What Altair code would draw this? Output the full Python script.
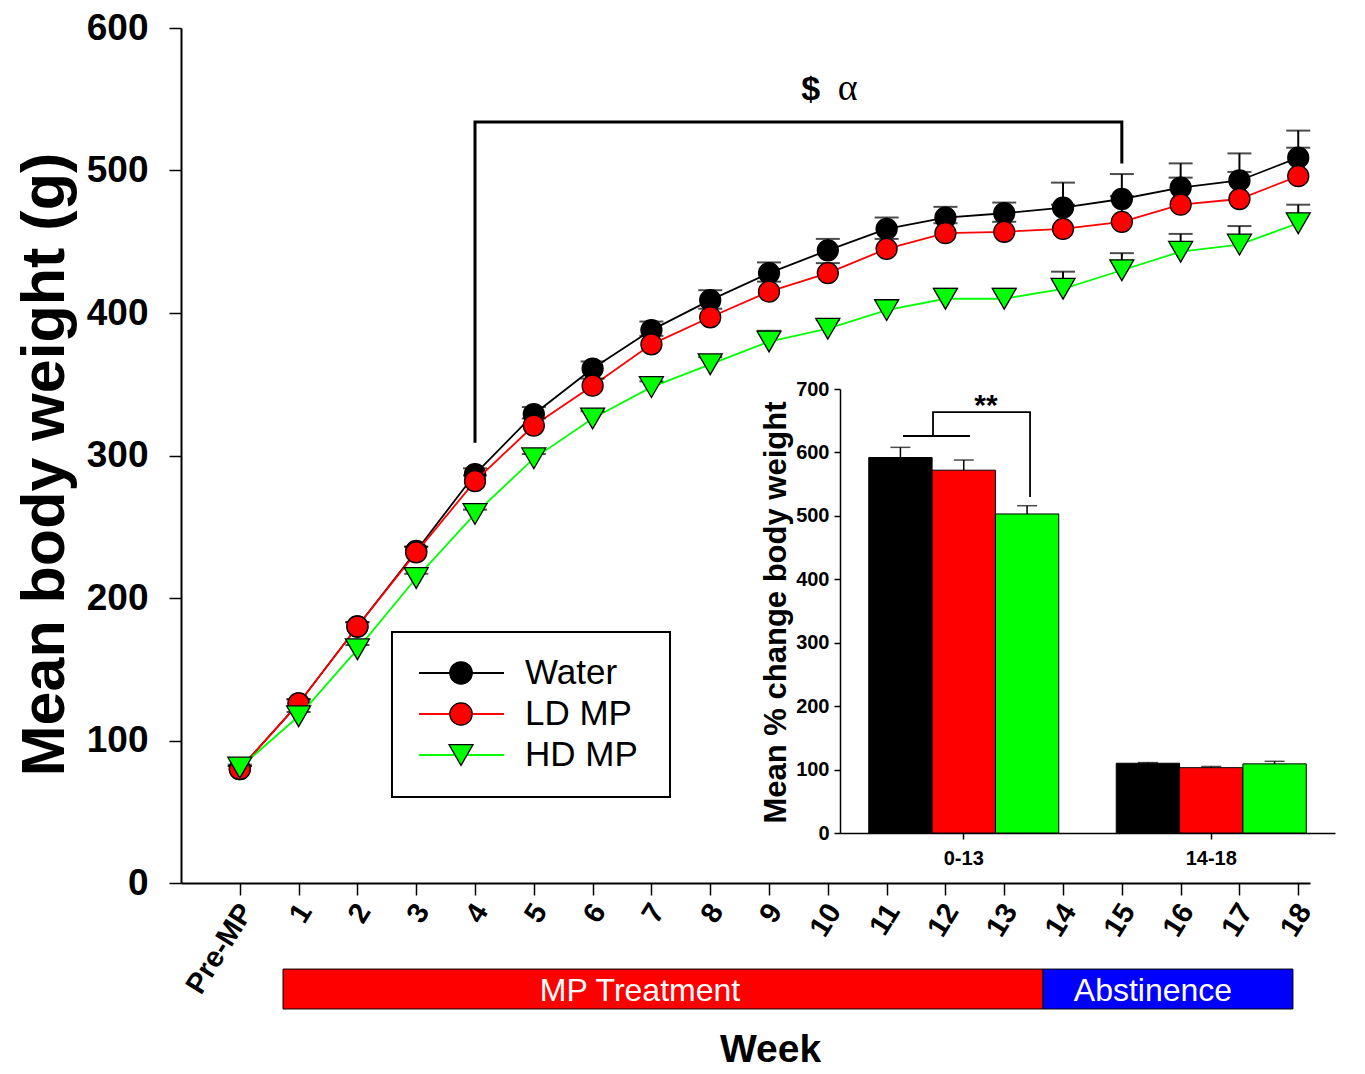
import json
import altair as alt
import pandas as pd

# ---------------- data ----------------
week_labels = ["Pre-MP"] + [str(i) for i in range(1, 19)]
week_index = list(range(19))

series_names = ["Water", "LD MP", "HD MP"]
series_colors = ["#000000", "#ff0000", "#00ff00"]
series_shapes = ["circle", "circle", "triangle-down"]

water = [80, 126, 180, 233, 287, 329, 361, 388, 409, 428, 444, 459, 467, 470, 474, 480, 488, 493, 509]
water_sem = [2, 3, 3, 3, 4, 5, 5, 6, 7, 7.5, 8, 8, 7.5, 7.5, 17.5, 17.5, 17, 19, 19]
ld_mp = [80, 126, 180, 232, 282, 321, 349, 378, 397, 415, 428, 445, 456, 457, 459, 464, 476, 480, 496]
ld_mp_sem = [2, 3, 3, 4, 4, 5, 5, 6, 6, 7, 7, 7, 7, 7, 17, 18, 19, 19, 20]
hd_mp = [81, 117, 164, 214, 259, 298, 326, 348, 364, 380, 389, 402, 410, 410, 417, 430, 443, 448, 463]
hd_mp_sem = [2, 3, 3, 3, 3, 3, 5, 4, 5, 7.5, 6, 7, 7, 7, 12, 12, 12.5, 13, 13]

# inset: mean % change body weight
periods = ["0-13", "14-18"]
pct_water = [592, 110]
pct_water_sem = [16, 1]
pct_ld = [572, 103]
pct_ld_sem = [16, 2]
pct_hd = [503, 109]
pct_hd_sem = [13, 4]

phase_names = ["MP Treatment", "Abstinence"]
phase_colors = ["#ff0000", "#0000ff"]
phase_start = [0.735, 13.66]
phase_end = [13.66, 17.91]

# ---------------- layout constants ----------------
FONT = "Liberation Sans"
SERIF = "Liberation Serif"
W, H = 1129, 855
xs = alt.Scale(domain=[-1, 18.2], nice=False, zero=False)
ys = alt.Scale(domain=[0, 600], nice=False, zero=False)

x_axis = alt.Axis(orient="bottom", values=week_index,
                  labelExpr=f"{json.dumps(week_labels)}[datum.value]",
                  labelAngle=-58, labelAlign="right", labelBaseline="middle",
                  labelFontSize=29, labelFontWeight="bold", labelPadding=11, labelOffset=6,
                  labelOverlap=False, labelFlush=False,
                  tickSize=12, tickWidth=1.5, domainWidth=2,
                  title="Week", titleFontSize=39, titleFontWeight="bold",
                  titleX=589, titleY=178, titleAlign="center", titleBaseline="alphabetic")
y_axis = alt.Axis(orient="left", values=[0, 100, 200, 300, 400, 500, 600],
                  labelFontSize=37, labelFontWeight="bold", labelPadding=21,
                  labelOverlap=False, labelFlush=False,
                  tickSize=12, tickWidth=1.5, domainWidth=2,
                  title="Mean body weight (g)", titleFontSize=61, titleFontWeight="bold",
                  titleAngle=270, titleX=-118, titleY=436, titleAlign="center",
                  titleBaseline="alphabetic")


def X(field):
    return alt.X(field, type="quantitative", scale=xs, axis=x_axis)


def Y(field):
    return alt.Y(field, type="quantitative", scale=ys, axis=y_axis)


def X2(field):
    return alt.X2(field)


def Y2(field):
    return alt.Y2(field)


main_layers = []

# phase bars under the axis
phase_df = pd.DataFrame({"name": phase_names, "color": phase_colors,
                         "x0": phase_start, "x1": phase_end,
                         "y0": [-60.4] * 2, "y1": [-88.4] * 2,
                         "tx": [6.806, 15.53], "ty": [-75.8] * 2})
main_layers.append(
    alt.Chart(phase_df).mark_rect(stroke="black", strokeWidth=1).encode(
        x=X("x0"), x2=X2("x1"), y=Y("y0"), y2=Y2("y1"),
        fill=alt.Fill("color:N", scale=None))
)
main_layers.append(
    alt.Chart(phase_df).mark_text(color="white", font=FONT, fontSize=32,
                                  align="center", baseline="middle").encode(
        x=X("tx"), y=Y("ty"), text="name:N")
)

# significance bracket on the growth curves
br_df = pd.DataFrame({"x": [4, 4, 15, 15], "y": [309, 534, 534, 505], "o": [0, 1, 2, 3]})
main_layers.append(
    alt.Chart(br_df).mark_line(color="black", strokeWidth=3).encode(
        x=X("x"), y=Y("y"), order="o:Q")
)
sym_df = pd.DataFrame({"t": ["$", "\u03b1"], "x": [9.71, 10.34], "y": [549.5, 549.5]})
main_layers.append(
    alt.Chart(sym_df.iloc[[0]]).mark_text(font=FONT, fontSize=34, fontWeight="bold",
                                          align="center", baseline="alphabetic",
                                          color="black").encode(
        x=X("x"), y=Y("y"), text="t:N")
)
main_layers.append(
    alt.Chart(sym_df.iloc[[1]]).mark_text(font=SERIF, fontSize=38,
                                          align="center", baseline="alphabetic",
                                          color="black").encode(
        x=X("x"), y=Y("y"), text="t:N")
)

# series: lines, error bars, markers
series_vals = [(water, water_sem), (ld_mp, ld_mp_sem), (hd_mp, hd_mp_sem)]
for name, color, shape, (vals, sems) in zip(series_names, series_colors, series_shapes, series_vals):
    df = pd.DataFrame({"week": week_index, "value": vals,
                       "upper": [v + s for v, s in zip(vals, sems)], "series": name})
    base = alt.Chart(df)
    size = 576 if shape == "triangle-down" else 440
    main_layers.append(base.mark_line(color=color, strokeWidth=1.8).encode(x=X("week"), y=Y("value")))
    main_layers.append(base.mark_rule(color="black", strokeWidth=2).encode(
        x=X("week"), y=Y("value"), y2=Y2("upper")))
    main_layers.append(base.mark_tick(orient="horizontal", color="black", size=24, thickness=2).encode(
        x=X("week"), y=Y("upper")))
    main_layers.append(base.mark_point(shape=shape, filled=True, fill=color, stroke="black",
                                       strokeWidth=1.3, size=size, opacity=1, fillOpacity=1).encode(
        x=X("week"), y=Y("value")))

# legend
leg_df = pd.DataFrame({"series": series_names, "color": series_colors, "shape": series_shapes,
                       "y": [147.4, 118.6, 89.8]})
box_df = pd.DataFrame({"x0": [2.588], "x1": [7.316], "y0": [60.35], "y1": [176.1]})
main_layers.append(
    alt.Chart(box_df).mark_rect(fill="white", stroke="black", strokeWidth=2).encode(
        x=X("x0"), x2=X2("x1"), y=Y("y0"), y2=Y2("y1"))
)
for i, name in enumerate(series_names):
    row = leg_df.iloc[[i]].assign(lx0=3.048, lx1=4.493, mx=3.762, tx=4.85)
    c = series_colors[i]
    shp = series_shapes[i]
    main_layers.append(alt.Chart(row).mark_rule(color=c, strokeWidth=2).encode(
        x=X("lx0"), x2=X2("lx1"), y=Y("y")))
    main_layers.append(alt.Chart(row).mark_point(shape=shp, filled=True, fill=c, stroke="black",
                                                 strokeWidth=1.3, opacity=1,
                                                 size=576 if shp == "triangle-down" else 500).encode(
        x=X("mx"), y=Y("y")))
    main_layers.append(alt.Chart(row).mark_text(font=FONT, fontSize=35, align="left",
                                                baseline="middle", color="black").encode(
        x=X("tx"), y=Y("y"), text="series:N"))

# inset significance bracket (drawn in main coordinates)
ib1 = pd.DataFrame({"x": [11.279, 12.418], "y": [313.7, 313.7], "o": [0, 1]})
ib2 = pd.DataFrame({"x": [11.789, 11.789, 13.439, 13.439], "y": [313.7, 330.5, 330.5, 270.9], "o": [0, 1, 2, 3]})
main_layers.append(alt.Chart(ib1).mark_line(color="black", strokeWidth=1.8).encode(
    x=X("x"), y=Y("y"), order="o:Q"))
main_layers.append(alt.Chart(ib2).mark_line(color="black", strokeWidth=1.8).encode(
    x=X("x"), y=Y("y"), order="o:Q"))
star_df = pd.DataFrame({"t": ["**"], "x": [12.69], "y": [328.4]})
main_layers.append(alt.Chart(star_df).mark_text(font=FONT, fontSize=30, fontWeight="bold",
                                                align="center", baseline="alphabetic",
                                                color="black").encode(
    x=X("x"), y=Y("y"), text="t:N"))

main = alt.layer(*main_layers)

# ---------------- inset bar chart ----------------
rows = []
for name, vals, sems in [("Water", pct_water, pct_water_sem),
                         ("LD MP", pct_ld, pct_ld_sem),
                         ("HD MP", pct_hd, pct_hd_sem)]:
    for p, v, s in zip(periods, vals, sems):
        rows.append({"period": p, "series": name, "pct": v, "upper": v + s})
inset_df = pd.DataFrame(rows)

ix_scale = alt.Scale(type="band", domain=periods, range=[659, 1154],
                     paddingInner=0.2323, paddingOuter=0.1162)
iy_scale = alt.Scale(domain=[0, 700], range=[805, 361], nice=False)
ix_axis = alt.Axis(orient="bottom", offset=-50, labelAngle=0, labelFontSize=20,
                   labelFontWeight="bold", labelPadding=9, tickSize=6, tickWidth=1.5,
                   domainWidth=1.5, title="")
iy_axis = alt.Axis(orient="left", offset=-659, values=[0, 100, 200, 300, 400, 500, 600, 700],
                   labelFontSize=20, labelFontWeight="bold", labelPadding=5,
                   labelOverlap=False, labelFlush=False,
                   tickSize=6, tickWidth=1.5, domainWidth=1.5,
                   title="Mean % change body weight", titleFontSize=31, titleFontWeight="bold",
                   titleAngle=270, titleX=-55, titleY=584, titleAlign="center",
                   titleBaseline="alphabetic")
IX = alt.X("period:N", scale=ix_scale, axis=ix_axis, sort=periods)
IXO = alt.XOffset("series:N", scale=alt.Scale(domain=series_names))
ibase = alt.Chart(inset_df)
inset = alt.layer(
    ibase.mark_bar(stroke="black", strokeWidth=1).encode(
        x=IX, xOffset=IXO,
        y=alt.Y("pct:Q", scale=iy_scale, axis=iy_axis),
        color=alt.Color("series:N", scale=alt.Scale(domain=series_names, range=series_colors),
                        legend=None)),
    ibase.mark_rule(color="black", strokeWidth=1.5).encode(
        x=IX, xOffset=IXO, y=alt.Y("pct:Q", scale=iy_scale, axis=iy_axis), y2="upper:Q"),
    ibase.mark_tick(orient="horizontal", color="black", size=20, thickness=1.5).encode(
        x=IX, xOffset=IXO, y=alt.Y("upper:Q", scale=iy_scale, axis=iy_axis)),
)

chart = alt.layer(main, inset).resolve_scale(
    x="independent", y="independent"
).properties(
    width=W, height=H,
    autosize=alt.AutoSizeParams(type="none"),
    padding={"left": 173, "top": 20, "right": 27, "bottom": 190},
    background="white",
).configure_view(stroke=None).configure_axis(
    grid=False, domainColor="black", tickColor="black", labelColor="black",
    titleColor="black", labelFont=FONT, titleFont=FONT
)

chart.save("out.html", embed_options={"renderer": "svg", "actions": False})
